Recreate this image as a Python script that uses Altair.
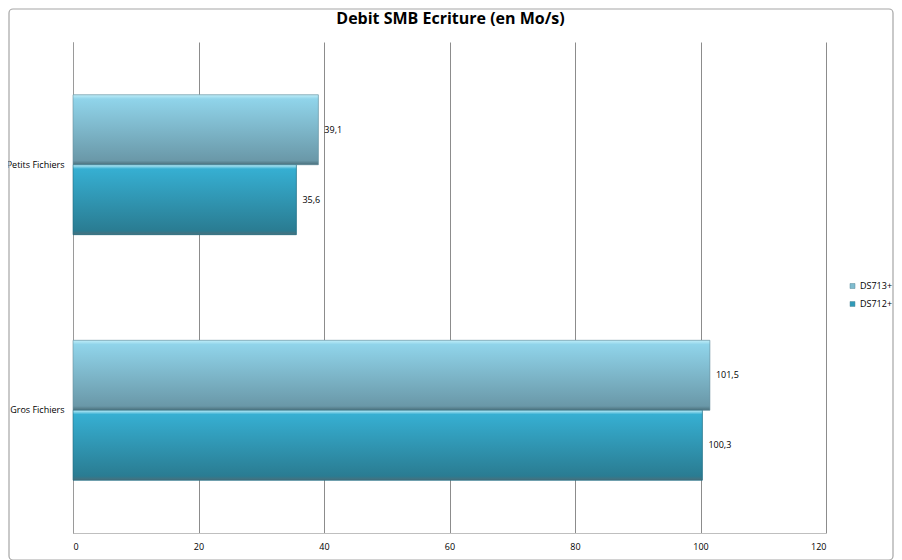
import altair as alt
import pandas as pd

categories = ["Petits Fichiers", "Petits Fichiers", "Gros Fichiers", "Gros Fichiers"]
series = ["DS713+", "DS712+", "DS713+", "DS712+"]
values = [39.1, 35.6, 101.5, 100.3]
cat_order = ["Petits Fichiers", "Gros Fichiers"]
series_order = ["DS713+", "DS712+"]
x_ticks = [0, 20, 40, 60, 80, 100, 120]
title_text = ["Debit SMB Ecriture (en Mo/s)"]

df = pd.DataFrame({"cat": categories, "serie": series, "v": values})

W, H = 753, 491
FONT = "Open Sans"

y_enc = alt.Y("cat:N", sort=cat_order, title=None,
              scale=alt.Scale(paddingInner=0.43, paddingOuter=0.215),
              axis=alt.Axis(ticks=False, grid=False, domain=True, domainColor="#9a9a9a",
                            labelFont=FONT, labelFontSize=9, labelColor="#000000",
                            labelPadding=9, labelAlign="right"))
x_enc = alt.X("v:Q", title=None,
              scale=alt.Scale(domain=[0, 120], nice=False),
              axis=alt.Axis(values=x_ticks, grid=True, gridColor="#8c8c8c",
                            ticks=False, domainColor="#bfbfbf",
                            labelFont=FONT, labelFontSize=9, labelColor="#000000",
                            labelPadding=9, format="d"))
yoff = alt.YOffset("serie:N", sort=series_order,
                   scale=alt.Scale(paddingInner=0, paddingOuter=0))

base = alt.Chart(df)

legend_bars = base.mark_bar().encode(
    y=y_enc, x=x_enc, yOffset=yoff,
    color=alt.Color("serie:N", sort=series_order, title=None,
                    scale=alt.Scale(domain=series_order, range=["#7fbccf", "#2f9ab8"]),
                    legend=alt.Legend(orient="none", legendX=W + 22, legendY=H / 2 - 6,
                                      symbolType="square", symbolSize=25,
                                      labelFont=FONT, labelFontSize=9,
                                      labelColor="#000000", rowPadding=8,
                                      labelOffset=3,
                                      symbolStrokeColor="#5b8a99", symbolStrokeWidth=0.5)),
)

def grad(top, bottom):
    return alt.Gradient(gradient="linear", x1=0, x2=0, y1=0, y2=1,
                        stops=[alt.GradientStop(color="#c0eef9", offset=0),
                               alt.GradientStop(color=top, offset=0.06),
                               alt.GradientStop(color=bottom, offset=0.94),
                               alt.GradientStop(color="#4a6f7b", offset=1)])

g713 = base.transform_filter(alt.datum.serie == "DS713+").mark_bar(
    color=grad("#90d4ea", "#6a98a8"), stroke="#6a8f9c", strokeWidth=0.6
).encode(y=y_enc, x=x_enc, yOffset=yoff)

g712 = base.transform_filter(alt.datum.serie == "DS712+").mark_bar(
    color=grad("#36afd2", "#2a7c92"), stroke="#236a7d", strokeWidth=0.6
).encode(y=y_enc, x=x_enc, yOffset=yoff)

labels = base.transform_calculate(
    lab="replace(format(datum.v, '.1f'), '.', ',')"
).mark_text(align="left", baseline="middle", dx=6, font=FONT, fontSize=9,
            color="#000000").encode(
    y=y_enc, x=x_enc, yOffset=yoff, text="lab:N")

frame = alt.Chart(pd.DataFrame({"a": [0]})).mark_rect(
    fill=None, stroke="#a6a6a6", strokeWidth=1.2, cornerRadius=4
).encode(x=alt.value(-64), x2=alt.value(W + 67),
         y=alt.value(-33), y2=alt.value(H + 27))

title = alt.Chart(pd.DataFrame({"t": title_text})).mark_text(
    font=FONT, fontSize=16, fontWeight="bold", color="#000000",
    align="center", baseline="middle"
).encode(text="t:N", x=alt.value(W / 2 + 1), y=alt.value(-23))

chart = alt.layer(frame, legend_bars, g713, g712, labels, title).properties(
    width=W, height=H,
    autosize=alt.AutoSizeParams(type="none"),
    padding={"left": 65, "top": 34, "right": 68, "bottom": 28},
).configure(background="#ffffff").configure_view(strokeWidth=0, stroke="transparent")

chart.save("out.html", embed_options={"renderer": "svg", "actions": False})
